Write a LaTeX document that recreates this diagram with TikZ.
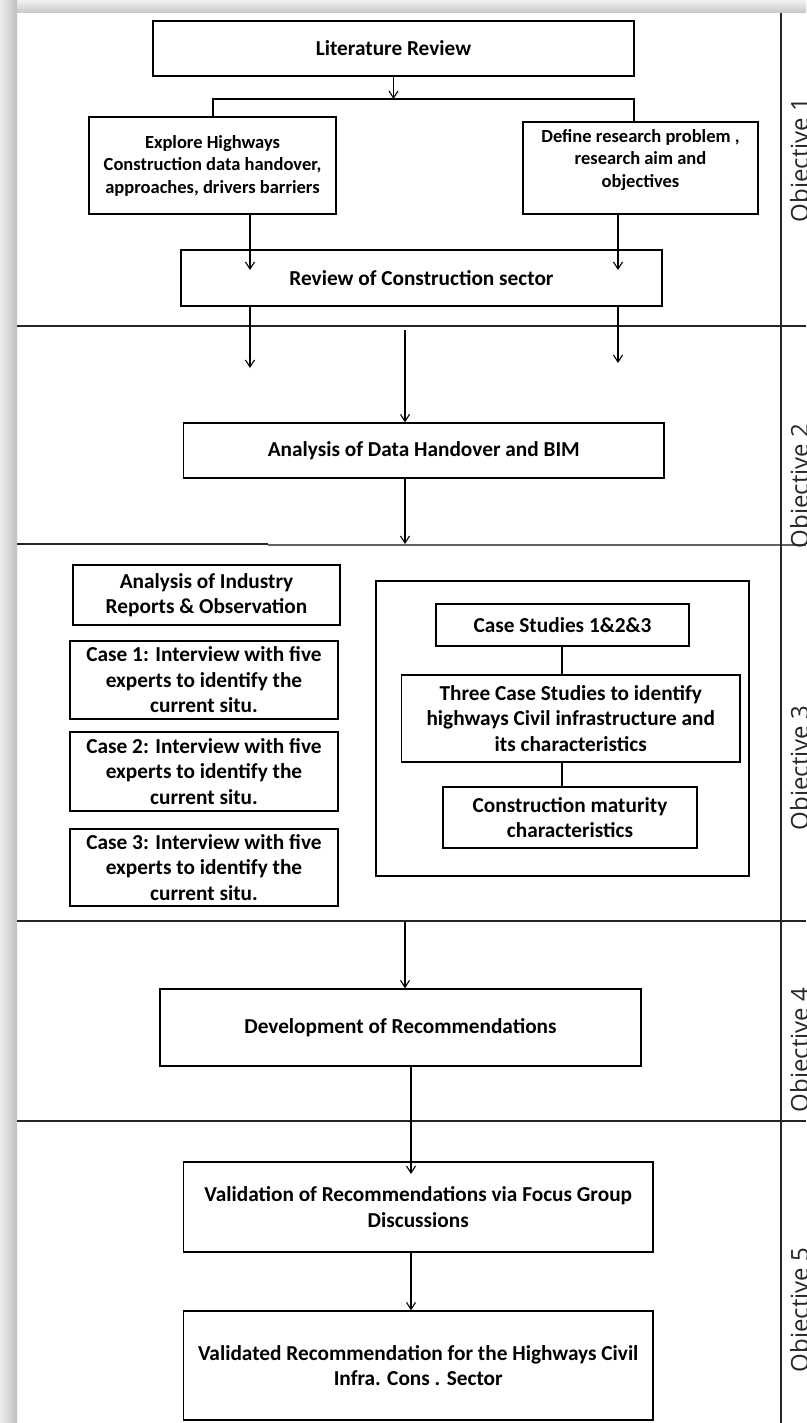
\documentclass[tikz,border=0pt]{standalone}
\usepackage{fontspec}
\setmainfont{Carlito}
\newfontfamily\objfont{Open Sans}
\usetikzlibrary{arrows.meta}
\begin{document}
\begin{tikzpicture}[x=1pt,y=-1pt,
  box/.style={draw=black, line width=1.3pt, fill=white, align=center, inner sep=0pt,
              font=\bfseries\fontsize{21.3}{25.5}\selectfont},
  bigtxt/.style={font=\bfseries\fontsize{21.3}{25}\selectfont},
  smalltxt/.style={font=\bfseries\fontsize{18.5}{22.5}\selectfont},
  midtxt/.style={font=\bfseries\fontsize{21.3}{25.5}\selectfont},
  sep/.style={line width=1.5pt, draw=black!85},
  conn/.style={line width=1.1pt},
  arr/.style={conn, -{Straight Barb[length=7pt,width=9pt,line width=1.1pt]}},
  objlabel/.style={rotate=90, anchor=north, inner sep=0pt, text=black!85,
                   font=\objfont\fontsize{24}{24}\selectfont}]

% page, frame shadow and clipping
\useasboundingbox (0,0) rectangle (806,1423);
\clip (0,0) rectangle (806,1423);
\fill[white] (0,0) rectangle (806,1423);
\shade[top color=black!5, bottom color=black!22] (0,0) rectangle (806,13);
\shade[left color=black!7, right color=black!25] (0,0) rectangle (17,1423);

% lane separators
\draw[sep] (17,326) -- (806,326);
\draw[sep] (17,544) -- (268,544);
\draw[line width=2pt, draw=black!62] (268,544.5) -- (806,544.5);
\draw[sep] (17,921) -- (806,921);
\draw[sep] (17,1121) -- (806,1121);
\draw[sep] (781,13) -- (781,1423);

% lane titles
\node[objlabel] (o1) at (790,160) {Objective 1};
\node[objlabel] (o2) at (790,486) {Objective 2};
\node[objlabel] (o3) at (790,768) {Objective 3};
\node[objlabel] (o4) at (790,1050) {Objective 4};
\node[objlabel] (o5) at (790,1310) {Objective 5};

% objective 1
\node[box, bigtxt, minimum width=481, minimum height=55] (lit) at (393.5,48.5) {Literature Review};
\node[box, smalltxt, minimum width=247, minimum height=97] (explore) at (212.5,165.5)
  {Explore Highways\\Construction data handover,\\approaches, drivers barriers};
\node[box, minimum width=235, minimum height=92,
  label={[smalltxt, align=center, yshift=8pt]center:{Define research problem ,\\research aim and\\objectives}}]
  (define) at (640.5,168) {};
\node[box, bigtxt, minimum width=481, minimum height=56] (review) at (421.5,278) {Review of Construction sector};

% objective 2
\node[box, bigtxt, minimum width=480.5, minimum height=55] (data) at (423.75,450.5) {Analysis of Data Handover and BIM};

% objective 3
\node[box, midtxt, minimum width=267, minimum height=60] (industry) at (206.5,595)
  {Analysis of Industry\\Reports \& Observation};
\node[box, midtxt, minimum width=268, minimum height=78] (case1) at (204,680)
  {Case 1: Interview with five\\experts to identify the\\current situ.};
\node[box, midtxt, minimum width=268, minimum height=79] (case2) at (204,771.5)
  {Case 2: Interview with five\\experts to identify the\\current situ.};
\node[box, midtxt, minimum width=268, minimum height=77] (case3) at (204,867.5)
  {Case 3: Interview with five\\experts to identify the\\current situ.};
\node[box, minimum width=373, minimum height=295] (studies) at (562.5,728.5) {};
\node[box, midtxt, minimum width=253, minimum height=42] (cs) at (562.5,625) {Case Studies 1\&2\&3};
\node[box, midtxt, minimum width=338.5, minimum height=87] (three) at (570.75,718.5)
  {Three Case Studies to identify\\highways Civil infrastructure and\\its characteristics};
\node[box, midtxt, minimum width=254, minimum height=61] (maturity) at (570,817.5)
  {Construction maturity\\characteristics};

% objective 4
\node[box, bigtxt, minimum width=481, minimum height=77] (dev) at (400.5,1027.5) {Development of Recommendations};

% objective 5
\node[box, midtxt, minimum width=469.5, minimum height=90] (valid) at (418.25,1207)
  {Validation of Recommendations via Focus Group\\Discussions};
\node[box, midtxt, minimum width=469.5, minimum height=109] (final) at (418.25,1365.5)
  {Validated Recommendation for the Highways Civil\\Infra. Cons . Sector};

% free ends of connectors
\coordinate (split) at (393.5,99);
\coordinate (splitL) at (213,99);
\coordinate (splitR) at (634,99);
\coordinate (inRevL) at (250,270);
\coordinate (inRevR) at (618,270);
\coordinate (outL) at (250,368);
\coordinate (outR) at (618,363);
\coordinate (laneTop) at (405,330);
\coordinate (laneB) at (405,544);
\coordinate (laneC) at (405,921);
\coordinate (inValid) at (411,1174);

% connectors
\draw[arr] (lit.south) -- (split);
\draw[conn] (explore.north -| splitL) -- (splitL) -- (splitR) -- (define.north -| splitR);
\draw[arr] (explore.south -| inRevL) -- (inRevL);
\draw[arr] (define.south -| inRevR) -- (inRevR);
\draw[arr] (review.south -| outL) -- (outL);
\draw[arr] (review.south -| outR) -- (outR);
\draw[arr] (laneTop) -- (data.north -| laneTop);
\draw[arr] (data.south -| laneB) -- (laneB);
\draw[conn] (cs.south -| 562,0) -- (three.north -| 562,0);
\draw[conn] (three.south -| 562,0) -- (maturity.north -| 562,0);
\draw[arr] (laneC) -- (dev.north -| laneC);
\draw[arr] (dev.south -| inValid) -- (inValid);
\draw[arr] (valid.south -| inValid) -- (final.north -| inValid);
\end{tikzpicture}
\end{document}
